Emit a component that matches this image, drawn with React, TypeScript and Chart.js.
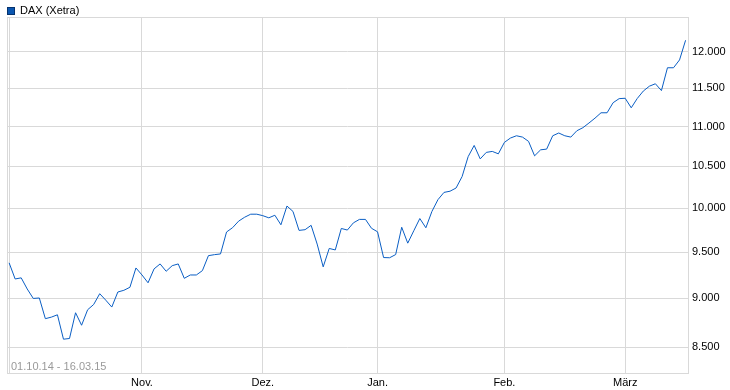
import React, { useEffect, useRef } from "react";
import { Chart, registerables } from "chart.js";

Chart.register(...registerables);

// ---- data (daily closes) ----
const seriesName = "DAX (Xetra)";
const dateRange = "01.10.14 - 16.03.15";

const octValues = [
  9382, 9207, 9219, 9100, 9000, 9005, 8790, 8806, 8830, 8582, 8589,
  8851, 8723, 8882, 8937, 9050, 8982, 8910, 9068, 9086, 9118, 9326,
];
const novValues = [
  9250, 9166, 9316, 9370, 9290, 9351, 9370, 9214, 9250, 9250,
  9297, 9461, 9472, 9480, 9726, 9775, 9850, 9895, 9930, 9930,
];
const decValues = [
  9913, 9888, 9918, 9808, 10025, 9962, 9744, 9752, 9802, 9590,
  9338, 9541, 9524, 9766, 9748, 9830, 9870, 9870, 9768,
];
const janValues = [
  9728, 9440, 9438, 9473, 9780, 9600, 9740, 9880, 9774, 9962, 10100,
  10186, 10200, 10238, 10376, 10620, 10760, 10592, 10673, 10685, 10655,
];
const febValues = [
  10798, 10853, 10882, 10865, 10811, 10630, 10705, 10714, 10882, 10917,
  10882, 10865, 10946, 10985, 11045, 11108, 11178, 11178, 11310, 11364,
];
const marValues = [
  11369, 11243, 11366, 11465, 11530, 11563, 11471, 11781, 11781, 11889, 12165,
];

const monthLabels = ["", "Nov.", "Dez.", "Jan.", "Feb.", "März"];
const yTicks = [8500, 9000, 9500, 10000, 10500, 11000, 11500, 12000];
const yMin = 8250;
const yMax = 12500;

// ---- styles ----
const FONT = "'Liberation Sans', Arial, sans-serif";
const GRID = "#d9d9d9";
const LINE = "#0a5ec4";

const months = [octValues, novValues, decValues, janValues, febValues, marValues];
const allValues = months.flat();
const monthStarts: number[] = [];
{
  let acc = 0;
  for (const m of months) {
    monthStarts.push(acc);
    acc += m.length;
  }
}
const points = allValues.map((v, i) => ({ x: i, y: v }));

const fmt = (v: number) =>
  String(Math.round(v)).replace(/\B(?=(\d{3})+(?!\d))/g, ".");

const overlay = {
  id: "overlay",
  beforeDatasetsDraw(chart: any) {
    const { ctx, chartArea: a } = chart;
    ctx.save();
    ctx.strokeStyle = GRID;
    ctx.lineWidth = 1;
    ctx.strokeRect(
      Math.round(a.left) + 0.5,
      Math.round(a.top) + 0.5,
      Math.round(a.right) - Math.round(a.left),
      Math.round(a.bottom) - Math.round(a.top)
    );
    ctx.restore();
  },
  afterDraw(chart: any) {
    const { ctx, chartArea: a } = chart;
    ctx.save();
    // legend
    ctx.fillStyle = "#0a56b0";
    ctx.fillRect(7, 7, 8, 8);
    ctx.strokeStyle = "#06336e";
    ctx.lineWidth = 1;
    ctx.strokeRect(7.5, 7.5, 7, 7);
    ctx.fillStyle = "#000";
    ctx.font = `11px ${FONT}`;
    ctx.textBaseline = "middle";
    ctx.textAlign = "left";
    ctx.fillText(seriesName, 20, 11);
    // date range
    ctx.fillStyle = "#9a9a9a";
    ctx.fillText(dateRange, a.left + 4, a.bottom - 6);
    ctx.restore();
  },
};

export default function App() {
  const ref = useRef<HTMLCanvasElement | null>(null);

  useEffect(() => {
    if (!ref.current) return;
    const chart = new Chart(ref.current, {
      type: "line",
      data: {
        datasets: [
          {
            label: seriesName,
            data: points,
            borderColor: LINE,
            backgroundColor: LINE,
            borderWidth: 1,
            pointRadius: 0,
            tension: 0,
            fill: false,
          },
        ],
      },
      options: {
        animation: false,
        responsive: false,
        devicePixelRatio: 1,
        parsing: false,
        layout: { padding: { left: 7, top: 17, right: 0, bottom: 0 } },
        plugins: {
          legend: { display: false },
          tooltip: { enabled: false },
        },
        scales: {
          x: {
            type: "linear",
            min: -0.35,
            max: 112.4,
            afterBuildTicks: (scale: any) => {
              scale.ticks = monthStarts.map((v) => ({ value: v }));
            },
            afterFit: (scale: any) => {
              scale.height = 17;
            },
            grid: { color: GRID, drawTicks: false, lineWidth: 1 },
            border: { display: true, color: GRID },
            ticks: {
              padding: 3,
              color: "#000",
              font: { family: FONT, size: 11 },
              maxRotation: 0,
              autoSkip: false,
              callback: (v: any) => {
                const idx = monthStarts.indexOf(Number(v));
                return idx >= 0 ? monthLabels[idx] : "";
              },
            },
          },
          y: {
            type: "logarithmic",
            position: "right",
            min: yMin,
            max: yMax,
            afterBuildTicks: (scale: any) => {
              scale.ticks = yTicks.map((v) => ({ value: v }));
            },
            afterFit: (scale: any) => {
              scale.width = 42;
            },
            grid: { color: GRID, drawTicks: false, lineWidth: 1 },
            border: { display: true, color: GRID },
            ticks: {
              padding: 4,
              color: "#000",
              font: { family: FONT, size: 11 },
              autoSkip: false,
              callback: (v: any) => fmt(Number(v)),
            },
          },
        },
      } as any,
      plugins: [overlay],
    });
    return () => chart.destroy();
  }, []);

  return (
    <div style={{ position: "absolute", left: 0, top: 0, width: 730, height: 390, background: "#fff" }}>
      <canvas ref={ref} width={730} height={390} style={{ width: 730, height: 390, display: "block" }} />
    </div>
  );
}
